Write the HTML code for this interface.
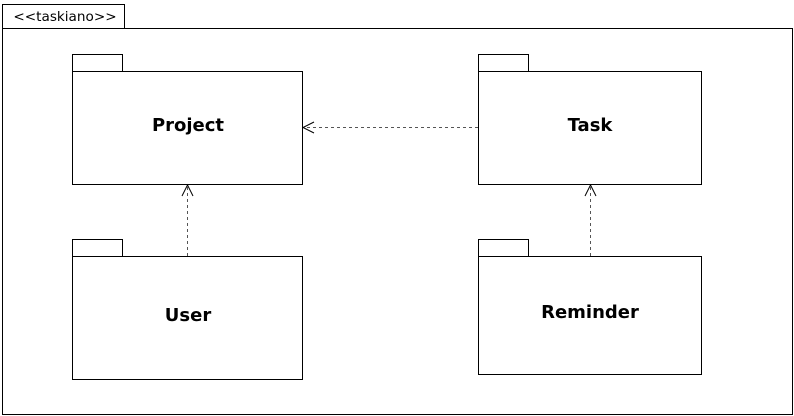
<!DOCTYPE html>
<html><head><meta charset="utf-8"><style>
html,body{margin:0;padding:0;background:#fff;width:794px;height:416px;overflow:hidden}
</style></head><body>
<svg width="794" height="416" xmlns="http://www.w3.org/2000/svg" style="display:block">
<g fill="#fff" stroke="#000" stroke-width="1">
<rect x="2.5" y="4.5" width="122" height="24"/>
<rect x="2.5" y="28.5" width="790" height="386"/>
<rect x="72.5" y="54.5" width="50" height="17"/>
<rect x="72.5" y="71.5" width="230" height="113"/>
<rect x="478.5" y="54.5" width="50" height="17"/>
<rect x="478.5" y="71.5" width="223" height="113"/>
<rect x="72.5" y="239.5" width="50" height="17"/>
<rect x="72.5" y="256.5" width="230" height="123"/>
<rect x="478.5" y="239.5" width="50" height="17"/>
<rect x="478.5" y="256.5" width="223" height="118"/>
</g>
<g stroke="#555" stroke-width="1" stroke-dasharray="3,3" fill="none">
<line x1="478" y1="127.5" x2="303" y2="127.5"/>
<line x1="187.5" y1="256" x2="187.5" y2="185"/>
<line x1="590.5" y1="256" x2="590.5" y2="185"/>
</g>
<g stroke="#000" stroke-width="1" fill="none">
<polyline points="314,122 303,127.5 314,133"/>
<polyline points="182,196 187.5,185 193,196"/>
<polyline points="585,196 590.5,185 596,196"/>
</g>
<g font-family="'DejaVu Sans', sans-serif" text-anchor="middle">
<text x="65" y="21" font-size="13.6">&lt;&lt;taskiano&gt;&gt;</text>
<g font-weight="bold" font-size="18">
<text x="188" y="131">Project</text>
<text x="590" y="131">Task</text>
<text x="188" y="321">User</text>
<text x="590" y="318">Reminder</text>
</g>
</g>
</svg>
</body></html>
